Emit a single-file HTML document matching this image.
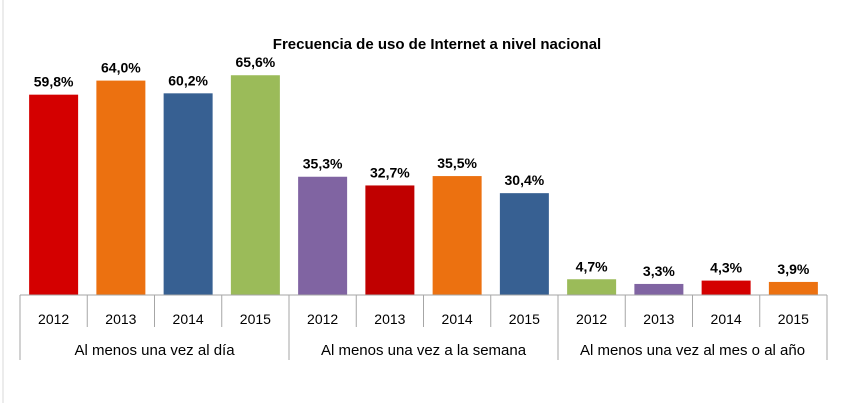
<!DOCTYPE html>
<html><head><meta charset="utf-8"><style>
body{margin:0;background:#fff;}
svg{display:block;font-family:"Liberation Sans",sans-serif;}
</style></head><body>
<svg id="chart" width="843" height="403" viewBox="0 0 843 403">
<line x1="3" y1="0" x2="3" y2="403" stroke="#d9d9d9" stroke-width="1"/>
<text x="437" y="49" text-anchor="middle" font-size="15" font-weight="bold" fill="#000">Frecuencia de uso de Internet a nivel nacional</text>
<g id="bars"></g>
<g id="axis"></g>
</svg>
<script>
const years=["2012","2013","2014","2015","2012","2013","2014","2015","2012","2013","2014","2015"];
const groups=["Al menos una vez al día","Al menos una vez a la semana","Al menos una vez al mes o al año"];
const values=[59.8,64.0,60.2,65.6,35.3,32.7,35.5,30.4,4.7,3.3,4.3,3.9];
const labels=["59,8%","64,0%","60,2%","65,6%","35,3%","32,7%","35,5%","30,4%","4,7%","3,3%","4,3%","3,9%"];
const colors=["#d40000","#ec7110","#376092","#9bbb59","#8064a2","#c00000","#ec7110","#376092","#9bbb59","#8064a2","#d40000","#ec7110"];
const NS="http://www.w3.org/2000/svg";
const x0=20,x1=827,base=295,slot=(x1-x0)/values.length,bw=49;
const y=v=>base-v*3.35;
const xs=i=>x0+i*slot;
const bars=document.getElementById('bars'),axis=document.getElementById('axis');
function mk(tag,attrs,parent){const e=document.createElementNS(NS,tag);for(const k in attrs)e.setAttribute(k,attrs[k]);parent.appendChild(e);return e;}
values.forEach((v,i)=>{
  const cx=xs(i)+slot/2;
  const r=mk('rect',{x:cx-bw/2,y:y(v),width:bw,height:base-y(v),fill:colors[i]},bars);
  
  
  const t=mk('text',{x:cx,y:y(v)-8,'text-anchor':'middle','font-size':'14','font-weight':'bold',fill:'#000'},bars);
  t.textContent=labels[i];
  
  
  const yt=mk('text',{x:cx,y:324,'text-anchor':'middle','font-size':'14',fill:'#000'},axis);
  yt.textContent=years[i];
  
  
});
const bl=mk('line',{x1:x0,y1:base,x2:x1,y2:base,stroke:'#a6a6a6'},axis);


for(let i=0;i<=values.length;i++){
  const gb=i%4===0;
  const l=mk('line',{x1:xs(i),y1:base,x2:xs(i),y2:gb?360:327,stroke:'#a6a6a6'},axis);
  
  
}
groups.forEach((g,j)=>{
  const t=mk('text',{x:xs(j*4)+slot*2,y:355,'text-anchor':'middle','font-size':'15',fill:'#000'},axis);
  t.textContent=g;
  
  
});
</script>
</body></html>
